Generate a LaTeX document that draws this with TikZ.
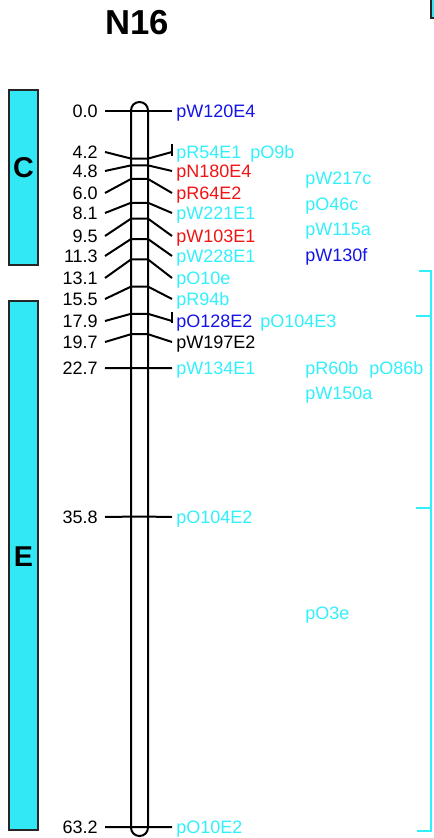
\documentclass[tikz,border=0pt]{standalone}
\usepackage{fontspec}
\setmainfont{Liberation Sans}
\definecolor{mkcyan}{RGB}{50,240,250}
\definecolor{boxcyan}{RGB}{51,232,245}
\definecolor{mkblue}{RGB}{20,20,230}
\definecolor{mkred}{RGB}{240,20,20}
\definecolor{mkblack}{RGB}{0,0,0}
\tikzset{
  lbl/.style={anchor=base west, inner sep=0pt, yshift=-4.8pt, font=\fontsize{13.5}{15}\selectfont},
  num/.style={anchor=base east, inner sep=0pt, yshift=-4.8pt, font=\fontsize{13.5}{15}\selectfont},
  link/.style={line width=1.5pt, black},
  groupbox/.style={draw=black!85, fill=boxcyan, line width=1.5pt, inner sep=0pt},
  grouplbl/.style={font=\fontsize{21.5}{24}\bfseries\selectfont, inner sep=0pt},
  bracket/.style={draw=mkcyan, line width=2.2pt},
}
\begin{document}
\begin{tikzpicture}[x=0.75pt, y=-0.75pt]
\useasboundingbox (0,0) rectangle (434,838);
\clip (0,0) rectangle (434,838);

% title
\node (title) [font=\fontsize{26}{29}\bfseries\selectfont, inner sep=0pt] at (137,23) {N16};

% neighbouring box at the right edge
\draw[groupbox] (430.5,-10) rectangle (445,18);

% group boxes
\node (boxC) [groupbox, minimum width=29*0.75pt, minimum height=175*0.75pt] at (23.5,177.5) {};
\node (boxE) [groupbox, minimum width=29*0.75pt, minimum height=529*0.75pt] at (23.5,565.5) {};
\node (labC) [grouplbl] at (23.5,168) {C};
\node (labE) [grouplbl] at (23.5,557) {E};

% chromosome
\node (chrom) [draw, line width=1.5pt, rounded corners=6.3pt, inner sep=0pt,
  minimum width=17*0.75pt, minimum height=734*0.75pt] at (139.5,469) {};

% markers: index / position (cM) / left label y / right label y / colour / name
\foreach \i/\cm/\ly/\ry/\col/\txt in {
  1/0.0/111/111/mkblue/pW120E4,
  2/4.2/152/152/mkcyan/pR54E1,
  3/4.8/171/171/mkred/pN180E4,
  4/6.0/193/193/mkred/pR64E2,
  5/8.1/213/213/mkcyan/pW221E1,
  6/9.5/236/236/mkred/pW103E1,
  7/11.3/256/256/mkcyan/pW228E1,
  8/13.1/278/278/mkcyan/pO10e,
  9/15.5/299/299/mkcyan/pR94b,
  10/17.9/321/321/mkblue/pO128E2,
  11/19.7/342/342/mkblack/pW197E2,
  12/22.7/368/368/mkcyan/pW134E1,
  13/35.8/517/517/mkcyan/pO104E2,
  14/63.2/827/827/mkcyan/pO10E2}{
  \pgfmathsetmacro{\cy}{111+11.33*\cm}
  \coordinate (L\i) at (105,\ly);
  \coordinate (cL\i) at (131,\cy);
  \coordinate (cR\i) at (148,\cy);
  \coordinate (R\i) at (172,\ry);
  \node (n\i) [num] at (98,\ly) {\cm};
  \node (m\i) [lbl, text=\col] at (176,\ry) {\txt};
  \draw[link] (L\i) -- (cL\i) -- (cR\i) -- (R\i);
}

% ticks for loci carrying several markers
\coordinate (t2a) at (172,144); \coordinate (t2b) at (172,156);
\coordinate (t10a) at (172,312); \coordinate (t10b) at (172,323);
\draw[link] (t2a) -- (t2b);
\draw[link] (t10a) -- (t10b);

% extra markers sharing a locus
\node (m2b) [lbl, text=mkcyan] at (250,152) {pO9b};
\node (m10b) [lbl, text=mkcyan] at (260,321) {pO104E3};

% unplaced markers
\node (u1) [lbl, text=mkcyan] at (305,178) {pW217c};
\node (u2) [lbl, text=mkcyan] at (305,204) {pO46c};
\node (u3) [lbl, text=mkcyan] at (305,229.5) {pW115a};
\node (u4) [lbl, text=mkblue] at (305,255) {pW130f};
\node (u5) [lbl, text=mkcyan] at (305,368) {pR60b};
\node (u6) [lbl, text=mkcyan] at (369,368) {pO86b};
\node (u7) [lbl, text=mkcyan] at (305,393) {pW150a};
\node (u8) [lbl, text=mkcyan] at (305,613) {pO3e};

% bracket
\coordinate (b0) at (419,271);
\coordinate (b1) at (431,271);
\coordinate (b2) at (431,831);
\coordinate (b3) at (417,831);
\coordinate (k1a) at (416,316); \coordinate (k1b) at (431,316);
\coordinate (k2a) at (416,508); \coordinate (k2b) at (431,508);
\draw[bracket] (b0) -- (b1) -- (b2) -- (b3);
\draw[bracket] (k1a) -- (k1b);
\draw[bracket] (k2a) -- (k2b);
\end{tikzpicture}
\end{document}
